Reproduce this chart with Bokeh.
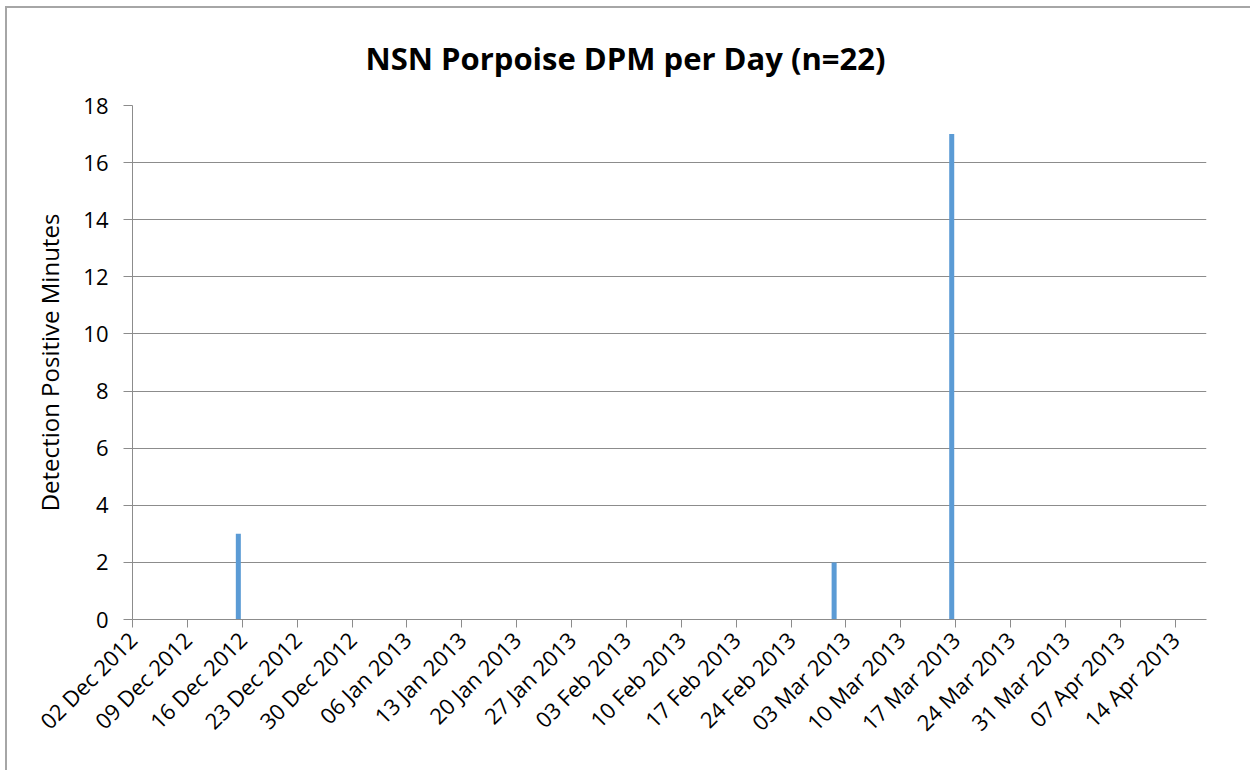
import datetime as dt
import math
from bokeh.plotting import figure
from bokeh.models import Range1d, FixedTicker, DatetimeTickFormatter, ColumnDataSource
from bokeh.embed import file_html
from bokeh.resources import INLINE

# Data
dates = ["2012-12-15", "2013-03-01", "2013-03-16"]
dpm = [3, 2, 17]
tick_dates = ["2012-12-02", "2012-12-09", "2012-12-16", "2012-12-23", "2012-12-30",
              "2013-01-06", "2013-01-13", "2013-01-20", "2013-01-27", "2013-02-03",
              "2013-02-10", "2013-02-17", "2013-02-24", "2013-03-03", "2013-03-10",
              "2013-03-17", "2013-03-24", "2013-03-31", "2013-04-07", "2013-04-14"]
x_start, x_end = "2012-12-02", "2013-04-18"
y_ticks = list(range(0, 19, 2))
title_text = "NSN Porpoise DPM per Day (n=22)"

def ms(s):
    d = dt.datetime.strptime(s, "%Y-%m-%d").replace(tzinfo=dt.timezone.utc)
    return d.timestamp() * 1000.0

DAY = 86400000.0
src = ColumnDataSource(dict(x=[ms(d) + DAY / 2 for d in dates], top=dpm))

FONT = "Open Sans"
p = figure(width=1245, height=764, x_axis_type="datetime",
           output_backend="svg", toolbar_location=None,
           x_range=Range1d(ms(x_start), ms(x_end)), y_range=Range1d(0, 18),
           min_border_left=125, min_border_right=46, min_border_top=97, min_border_bottom=153)
p.styles = {"border-top": "2px solid #a6a6a6", "border-left": "2px solid #a6a6a6",
            "margin-left": "5px", "margin-top": "6px"}

p.vbar(x="x", top="top", bottom=0, width=0.64 * DAY, source=src,
       fill_color="#5B9BD5", line_color=None)

p.title.text = title_text
p.title.text_font = FONT
p.title.text_font_size = "31px"
p.title.text_font_style = "bold"
p.title.text_color = "black"
p.title.align = "left"
p.title.offset = 233
p.title.standoff = 53

p.outline_line_color = None
p.xgrid.grid_line_color = None
p.ygrid.grid_line_color = "#8c8c8c"
p.ygrid.grid_line_width = 1

p.xaxis.ticker = FixedTicker(ticks=[ms(t) for t in tick_dates])
fmt = "%d %b %Y"
p.xaxis.formatter = DatetimeTickFormatter(milliseconds=fmt, seconds=fmt, minsec=fmt, minutes=fmt,
                                          hourmin=fmt, hours=fmt, days=fmt, months=fmt, years=fmt)
p.xaxis.major_label_orientation = math.pi / 4
p.yaxis.ticker = FixedTicker(ticks=y_ticks)
p.yaxis.axis_label = "Detection Positive Minutes"

for ax in (p.xaxis, p.yaxis):
    ax.axis_line_color = "#8c8c8c"
    ax.major_tick_line_color = "#8c8c8c"
    ax.minor_tick_line_color = None
    ax.major_tick_in = 0
    ax.major_tick_out = 8
    ax.major_label_text_font = FONT
    ax.major_label_text_font_size = "22px"
    ax.major_label_text_color = "black"
    ax.axis_label_text_font = FONT
    ax.axis_label_text_font_size = "24px"
    ax.axis_label_text_font_style = "normal"
    ax.axis_label_text_color = "black"
p.yaxis.major_tick_out = 9
p.yaxis.major_label_standoff = 15
p.xaxis.major_label_standoff = 8
p.yaxis.axis_label_standoff = 14

open("out.html", "w").write(file_html(p, INLINE))
